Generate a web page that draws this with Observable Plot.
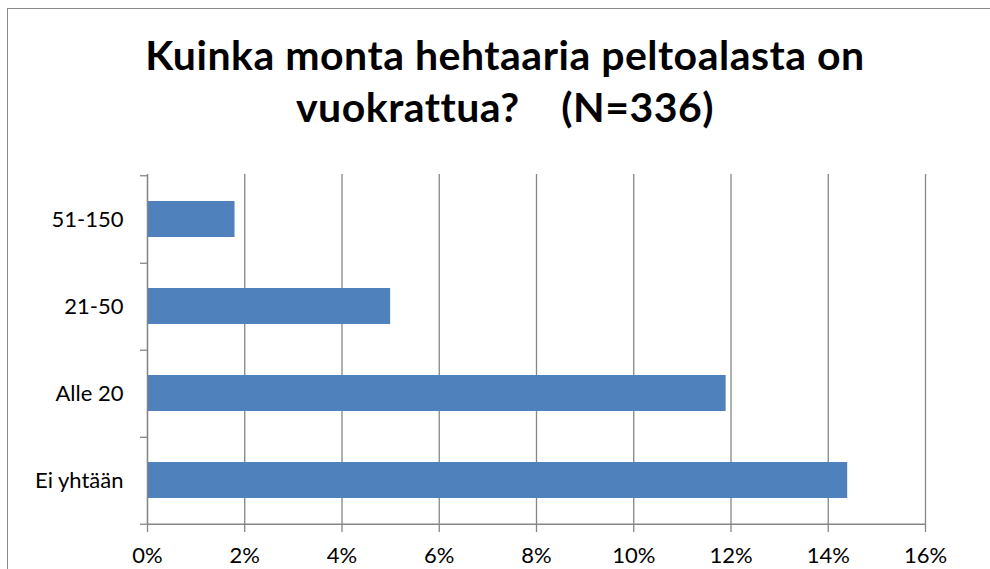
<!DOCTYPE html>
<html>
<head>
<meta charset="utf-8">
<script src="https://cdn.jsdelivr.net/npm/d3@7"></script>
<script src="https://cdn.jsdelivr.net/npm/@observablehq/plot@0.6"></script>
<style>
  html, body { margin: 0; padding: 0; background: #fff; }
  #wrap { position: relative; width: 990px; height: 569px; overflow: hidden; background: #fff; }
  #frame { position: absolute; left: 7px; top: 8px; width: 1100px; height: 700px;
           border-left: 1.5px solid #8a8a8a; border-top: 1.5px solid #8a8a8a; box-sizing: border-box; }
  #title { position: absolute; left: 20px; top: 29px; width: 970px; text-align: center;
           font-family: Lato, "Open Sans", sans-serif; font-weight: bold; font-size: 41px;
           letter-spacing: 0.5px; line-height: 52px; color: #000; white-space: pre; }
  #chart { position: absolute; left: 0; top: 150px; }
</style>
</head>
<body>
<div id="wrap">
  <div id="frame"></div>
  <div id="title">Kuinka monta hehtaaria peltoalasta on
vuokrattua?    (N=336)</div>
  <div id="chart"></div>
</div>
<script>
const categories = ["51-150", "21-50", "Alle 20", "Ei yhtään"];
const shares = [0.018, 0.050, 0.119, 0.144];
const xTicks = [0, 0.02, 0.04, 0.06, 0.08, 0.10, 0.12, 0.14, 0.16];

const data = categories.map((c, i) => ({category: c, share: shares[i]}));

const W = 990, H = 419, mT = 24, mB = 45, mL = 147, mR = 65;
const step = (H - mT - mB) / categories.length;
const gray = "#868686";
const fs = 22;

const chart = Plot.plot({
  width: W, height: H,
  marginTop: mT, marginBottom: mB, marginLeft: mL, marginRight: mR,
  style: {fontFamily: "Lato, 'Open Sans', sans-serif", fontSize: fs + "px", color: "#000", background: "transparent"},
  x: {domain: [0, 0.16], label: null},
  y: {domain: categories, paddingInner: 0.59, paddingOuter: 0.295, label: null},
  marks: [
    Plot.gridX(xTicks, {stroke: gray, strokeOpacity: 1, strokeWidth: 1.3}),
    Plot.barX(data, {x: "share", y: "category", fill: "#4F81BD"}),
    Plot.ruleX([0], {stroke: gray, strokeWidth: 1.3}),
    Plot.ruleY([categories[categories.length - 1]], {dy: step / 2, stroke: gray, strokeWidth: 1.3}),
    Plot.axisX(xTicks, {tickSize: 8, tickPadding: 15, fontSize: fs, tickFormat: d3.format(".0%"), stroke: gray, fill: "#000", label: null, strokeWidth: 1.3}),
    Plot.axisY({tickSize: 0, tickPadding: 24, fontSize: fs, fill: "#000", label: null}),
    Plot.axisY({tickSize: 7, fill: "none", stroke: gray, dy: step / 2, label: null, strokeWidth: 1.3}),
    Plot.axisY([categories[0]], {tickSize: 7, fill: "none", stroke: gray, dy: -step / 2, label: null, strokeWidth: 1.3})
  ]
});
document.getElementById("chart").appendChild(chart);
</script>
</body>
</html>
